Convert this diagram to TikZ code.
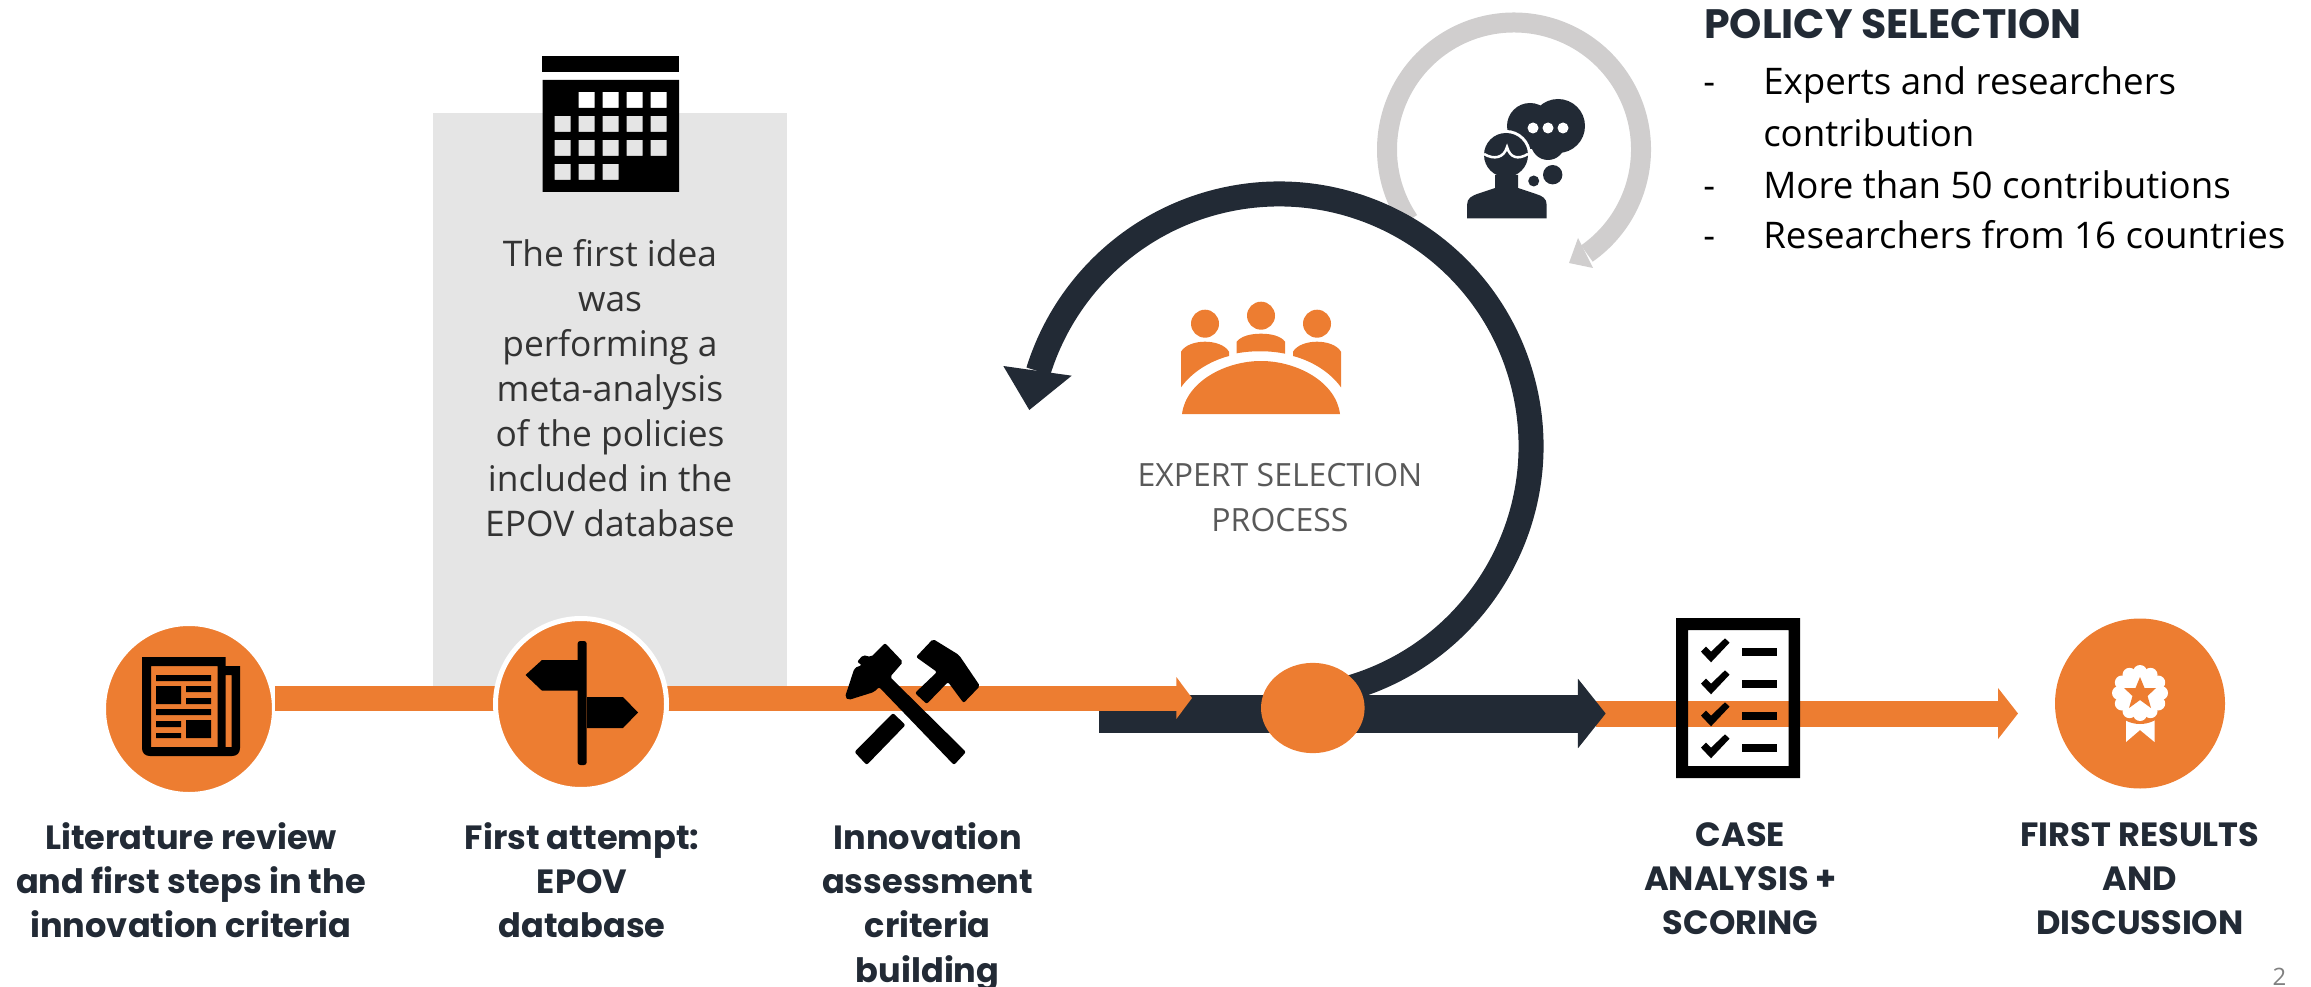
\documentclass[tikz,border=0pt]{standalone}
\usepackage{fontspec}
\usetikzlibrary{arrows.meta,shapes.geometric}
\setmainfont{Open Sans}
\newfontfamily\gothicfont{Poppins}
\definecolor{stepcolor}{RGB}{237,125,49}
\definecolor{darkcolor}{RGB}{34,42,53}
\definecolor{ringcolor}{RGB}{208,206,206}
\definecolor{boxcolor}{RGB}{229,229,229}
\tikzset{
    stepcircle/.style={circle,fill=stepcolor,inner sep=0pt},
    steplabel/.style={anchor=north,inner sep=0pt,align=center,text=darkcolor,font=\gothicfont\bfseries\fontsize{25.2}{33.3}\selectfont},
    bodytext/.style={anchor=north,inner sep=0pt,align=center,text=black!80,font=\fontsize{26.5}{33.8}\selectfont},
    listtext/.style={anchor=base west,inner sep=0pt,font=\fontsize{27.5}{38}\selectfont},
    flowbar/.style={stepcolor,line width=18.75pt,-{Triangle[length=11.7pt,width=30.75pt]}},
    resultbar/.style={stepcolor,line width=19.5pt,-{Triangle[length=15pt,width=37.5pt]}},
    darkbar/.style={darkcolor,line width=28.5pt,-{Triangle[length=20.8pt,width=51pt]}}
}

\begin{document}
\begin{tikzpicture}[x=0.75pt,y=0.75pt,yscale=-1.0,xscale=1.0]
    \useasboundingbox (0,0) rectangle (2311,987);

    % Box behind the second step
    \node [anchor=north west,fill=boxcolor,inner sep=0pt,minimum width=265.5pt,minimum height=429.75pt] (ideabox) at (433,113) {};

    % Calendar
    \fill (542,56) rectangle (679,72);
    \fill [even odd rule] (542.5,80) rectangle (679,192)
        foreach \col/\row in {1/0,2/0,3/0,4/0,0/1,1/1,2/1,3/1,4/1,0/2,1/2,2/2,3/2,4/2,0/3,1/3,2/3}
        { ({554.5+24*\col},{92+24*\row}) rectangle ++(16,16) };

    % Text Node
    \node [bodytext] (idealabel) at (610,239) {The first idea\\was\\performing a\\meta-analysis\\of the policies\\included in the\\EPOV database};

    % Anchors of the connections
    \coordinate (toolstip) at (1192,698);
    \coordinate (darkstart) at (1098.6,713.5);
    \coordinate (darktip) at (1605.7,713.5);
    \coordinate (resultstart) at (1596,713.5);
    \coordinate (resulttip) at (2018,713.5);
    \coordinate (arcstart) at ({1279+252*cos(76)},{446+252*sin(76)});
    \coordinate (ringstart) at ({1514+127*cos(146)},{149.5+127*sin(146)});

    % Connections
    \draw [resultbar] (resultstart) -- (resulttip);
    \draw [darkbar] (darkstart) -- (darktip);

    % Literature step
    \node [stepcircle,draw=white,line width=2.25pt,minimum size=126.75pt] (lit) at (189,709) {};
    \fill [even odd rule] (142,657) -- (225.5,657) -- (225.5,666) -- (240,666) -- (240,748) .. controls (240,753) and (237,756) .. (232,756) -- (150,756) .. controls (145,756) and (142,753) .. (142,748) -- cycle
        (151,666) rectangle (217.6,747)
        (225.5,675) rectangle (231.5,747);
    \fill (156,675) rectangle (211,681) (156,686) rectangle (181,704) (186,686) rectangle (211,692) (186,698) rectangle (211,704)
        (156,709) rectangle (211,715) (156,721) rectangle (181,727) (156,733) rectangle (181,738) (186,720) rectangle (211,738);

    % Connection
    \draw [flowbar] (lit.east |- toolstip) -- (toolstip);

    % Database step
    \node [stepcircle,draw=white,line width=3.75pt,minimum size=128.25pt] (epov) at (581,704) {};
    \fill [rounded corners=2pt] (577.6,765) -- (577.6,641) -- (586.7,641) -- (586.7,765) -- cycle;
    \fill (578,660) -- (542,660) -- (525.5,675) -- (542,690.7) -- (578,690.7) -- cycle;
    \fill (587,697) -- (623,697) -- (638,712.5) -- (623,728) -- (587,728) -- cycle;

    % Hammers
    \fill [rounded corners=1.5pt] (885,643) -- (903,662) -- (890,677) -- (966,752) -- (954,765) -- (879,687) -- (874,692) -- (848.5,700) -- (845,697) -- (854.5,668) -- (862,665) -- (857,662) -- (863,655) -- (871,657) -- cycle;
    \fill [rounded corners=1.5pt] (893,713) -- (905.5,725) -- (866.7,765) -- (854.5,752) -- cycle;
    \fill [rounded corners=1.5pt] (933,639) -- (959,655) -- (980,686) -- (963.6,703) -- (948,682) -- (926.7,704) -- (915,693) -- (937,672) -- (916,657) -- cycle;

    % Thought ring
    \draw [ringcolor,line width=15pt] (ringstart) arc[start angle=146,end angle=415,radius=127];
    \fill [ringcolor] (1578,238) -- (1593,268) -- (1569,263) -- cycle;

    % Speaking person
    \fill [darkcolor] (1530,126) circle (23) (1558,126) circle (27) (1548,143) circle (17);
    \fill [white] (1506,155) circle (25);
    \fill [white] (1533,128) circle (5.5) (1548,128) circle (5.5) (1563,128) circle (5.5);
    \fill [darkcolor] (1552.7,174.7) circle (9.7) (1533.7,181) circle (5.5);
    \fill [darkcolor] (1506,155) circle (22);
    \fill [darkcolor] (1467,218.3) -- (1467,205) .. controls (1467,198) and (1472,196) .. (1477,194) -- (1495,188) -- (1495,175) -- (1518,175) -- (1518,188) -- (1536,194) .. controls (1542,196) and (1546.7,198) .. (1546.7,205) -- (1546.7,218.3) -- cycle;
    \draw [white,line width=1.9pt] (1484,154) .. controls (1494,160) and (1504,158) .. (1507,147) .. controls (1510,158) and (1518,160) .. (1528,154);

    % Connection
    \draw [darkcolor,line width=18.75pt] (arcstart) arc[start angle=76,end angle=-162.75,radius=252];
    \fill [darkcolor] (1003.3,366) -- (1071.7,375.7) -- (1029.3,410) -- cycle;

    % Node on the line
    \node [ellipse,fill=stepcolor,inner sep=0pt,minimum width=77.7pt,minimum height=67.7pt] (hub) at (1312.8,708) {};

    % Checklist
    \fill [even odd rule] (1676,618) rectangle (1800,778) (1688,630) rectangle (1788.6,766);
    \foreach \row in {0,1,2,3} {
        \fill ({1701},{651.7+32*\row}) -- (1706,{646.7+32*\row}) -- (1711,{651.7+32*\row}) -- (1725,{638.3+32*\row}) -- (1729.5,{642.7+32*\row}) -- (1711,{662.3+32*\row}) -- cycle;
        \fill (1742,{648+32*\row}) rectangle (1777,{656+32*\row});
    }

    % Results step
    \node [stepcircle,minimum size=127.5pt] (results) at (2140,703.5) {};
    \fill [white] (2126,718.7) -- (2154.5,718.7) -- (2154.5,742) -- (2140,730) -- (2126,742) -- cycle;
    \fill [stepcolor] (2140,693) circle (31);
    \fill [white] (2140,693) circle (22);
    \foreach \ang in {0,30,...,330} {
        \fill [white] ({2140+21*cos(\ang)},{693+21*sin(\ang)}) circle (7);
    }
    \fill [stepcolor] (2140,677) -- (2144.5,688) -- (2156,688) -- (2147.5,696) -- (2151,708) -- (2140,700) -- (2129,708) -- (2132.5,696) -- (2124,688) -- (2135.5,688) -- cycle;

    % Meeting icon
    \fill [stepcolor] (1182,414) .. controls (1186,382) and (1225,361) .. (1261,361) .. controls (1297,361) and (1336,382) .. (1340,414) -- cycle;
    \fill [stepcolor] (1205,323.7) circle (14) (1261,315.7) circle (14) (1317,323.7) circle (14);
    \fill [stepcolor] (1181,387.3) -- (1181,351.7) .. controls (1185,345) and (1195,341.7) .. (1205,341.7) .. controls (1215,341.7) and (1225,345) .. (1229,351.7) -- (1229,356) .. controls (1210,361) and (1192,372) .. (1181,387.3) -- cycle;
    \fill [stepcolor] (1341,387.3) -- (1341,351.7) .. controls (1337,345) and (1327,341.7) .. (1317,341.7) .. controls (1307,341.7) and (1297,345) .. (1293,351.7) -- (1293,356) .. controls (1312,361) and (1330,372) .. (1341,387.3) -- cycle;
    \fill [stepcolor] (1236.7,353.3) -- (1236.7,341.7) .. controls (1241,336) and (1251,333.7) .. (1261,333.7) .. controls (1271,333.7) and (1281,336) .. (1285,341.7) -- (1285,353.7) .. controls (1270,350.5) and (1252,350.5) .. (1236.7,353.3) -- cycle;

    % Text Node
    \node [bodytext,text=black!65,font=\fontsize{24}{33.8}\selectfont] (expertlabel) at (1280,463) {EXPERT SELECTION\\PROCESS};
    \node [steplabel] (litlabel) at (191,822) {Literature review\\and first steps in the\\innovation criteria};
    \node [steplabel] (epovlabel) at (582,822) {First attempt:\\EPOV\\database};
    \node [steplabel] (toollabel) at (927.7,822) {Innovation\\assessment\\criteria\\building};
    \node [steplabel] (caselabel) at (1740.5,822) {CASE\\ANALYSIS +\\SCORING};
    \node [steplabel] (resultlabel) at (2140,822) {FIRST RESULTS\\AND\\DISCUSSION};

    % Policy list
    \node [anchor=base west,inner sep=0pt,text=darkcolor,font=\gothicfont\bfseries\fontsize{30.8}{36}\selectfont] (policytitle) at (1704,38.3) {POLICY SELECTION};
    \node [listtext] (dashone) at (1703,95) {-};
    \node [listtext] (itemone) at (1763,95) {Experts and researchers};
    \node [listtext] (itemonemore) at (1763,147) {contribution};
    \node [listtext] (dashtwo) at (1703,198.7) {-};
    \node [listtext] (itemtwo) at (1763,198.7) {More than 50 contributions};
    \node [listtext] (dashthree) at (1703,249) {-};
    \node [listtext] (itemthree) at (1763,249) {Researchers from 16 countries};

    % Page number
    \node [anchor=base,inner sep=0pt,text=black!50,font=\fontsize{18}{22}\selectfont] (pagenumber) at (2279.5,985.7) {2};
\end{tikzpicture}
\end{document}
